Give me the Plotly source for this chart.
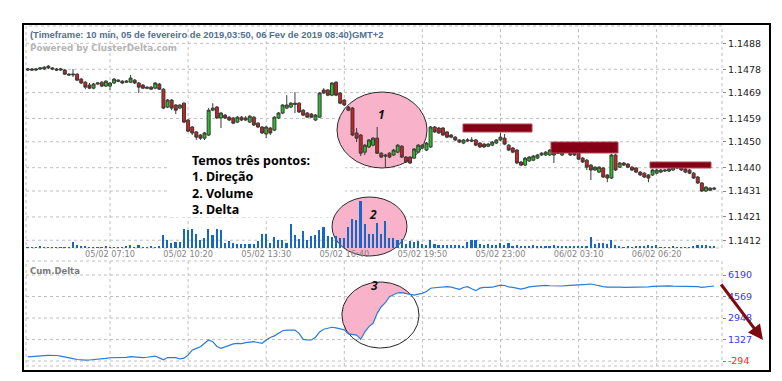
import math
import plotly.graph_objects as go

W, H = 782, 381

# ---------------- data ----------------
x_tick_idx = [20, 39, 58, 77, 96, 115, 134, 153]
x_tick_text = ["05/02 07:10", "05/02 10:20", "05/02 13:30", "05/02 16:40",
               "05/02 19:50", "05/02 23:00", "06/02 03:10", "06/02 06:20"]
price_ticks = [1.1412, 1.1421, 1.1431, 1.1440, 1.1450, 1.1459, 1.1469, 1.1478, 1.1488]
delta_ticks = [-294, 1327, 2948, 4569, 6190]

open_ = [
    1.14777, 1.14781, 1.14777, 1.14781, 1.14781, 1.14792, 1.14785, 1.14781, 1.14777, 1.14777,
    1.14761, 1.14758, 1.14761, 1.14742, 1.14730, 1.14719, 1.14707, 1.14723, 1.14730, 1.14715,
    1.14715, 1.14727, 1.14738, 1.14734, 1.14730, 1.14730, 1.14738, 1.14727, 1.14719, 1.14711,
    1.14711, 1.14707, 1.14723, 1.14703, 1.14634, 1.14661, 1.14642, 1.14630, 1.14649, 1.14584,
    1.14557, 1.14538, 1.14526, 1.14514, 1.14526, 1.14622, 1.14634, 1.14592, 1.14603, 1.14595,
    1.14592, 1.14576, 1.14595, 1.14592, 1.14576, 1.14595, 1.14572, 1.14557, 1.14530, 1.14553,
    1.14545, 1.14592, 1.14611, 1.14630, 1.14634, 1.14649, 1.14649, 1.14622, 1.14611, 1.14607,
    1.14584, 1.14595, 1.14700, 1.14700, 1.14680, 1.14730, 1.14688, 1.14661, 1.14634, 1.14630,
    1.14534, 1.14526, 1.14460, 1.14480, 1.14487, 1.14514, 1.14456, 1.14449, 1.14456, 1.14449,
    1.14460, 1.14483, 1.14441, 1.14441, 1.14437, 1.14460, 1.14476, 1.14468, 1.14480, 1.14557,
    1.14553, 1.14553, 1.14538, 1.14526, 1.14518, 1.14507, 1.14495, 1.14503, 1.14507, 1.14507,
    1.14495, 1.14491, 1.14483, 1.14487, 1.14495, 1.14507, 1.14514, 1.14487, 1.14476, 1.14468,
    1.14422, 1.14410, 1.14426, 1.14429, 1.14437, 1.14449, 1.14449, 1.14449, 1.14468, 1.14460,
    1.14449, 1.14460, 1.14460, 1.14456, 1.14456, 1.14437, 1.14429, 1.14410, 1.14391, 1.14383,
    1.14399, 1.14372, 1.14360, 1.14449, 1.14402, 1.14418, 1.14414, 1.14402, 1.14399, 1.14383,
    1.14379, 1.14372, 1.14372, 1.14379, 1.14383, 1.14387, 1.14387, 1.14391, 1.14399, 1.14402,
    1.14395, 1.14391, 1.14379, 1.14364, 1.14341, 1.14310, 1.14321, 1.14317,
]
close = [
    1.14781, 1.14777, 1.14781, 1.14785, 1.14788, 1.14785, 1.14781, 1.14777, 1.14781, 1.14761,
    1.14758, 1.14761, 1.14738, 1.14727, 1.14711, 1.14707, 1.14723, 1.14727, 1.14715, 1.14734,
    1.14727, 1.14742, 1.14734, 1.14727, 1.14734, 1.14746, 1.14727, 1.14711, 1.14707, 1.14707,
    1.14703, 1.14727, 1.14703, 1.14630, 1.14661, 1.14630, 1.14622, 1.14642, 1.14576, 1.14541,
    1.14534, 1.14518, 1.14514, 1.14534, 1.14622, 1.14630, 1.14592, 1.14611, 1.14592, 1.14584,
    1.14572, 1.14595, 1.14584, 1.14584, 1.14599, 1.14565, 1.14557, 1.14534, 1.14557, 1.14534,
    1.14595, 1.14611, 1.14642, 1.14642, 1.14649, 1.14645, 1.14615, 1.14603, 1.14595, 1.14595,
    1.14603, 1.14688, 1.14688, 1.14680, 1.14727, 1.14680, 1.14649, 1.14642, 1.14622, 1.14526,
    1.14514, 1.14456, 1.14487, 1.14507, 1.14514, 1.14456, 1.14441, 1.14445, 1.14441, 1.14468,
    1.14487, 1.14441, 1.14422, 1.14418, 1.14472, 1.14487, 1.14487, 1.14495, 1.14557, 1.14538,
    1.14534, 1.14526, 1.14518, 1.14518, 1.14507, 1.14499, 1.14507, 1.14507, 1.14503, 1.14487,
    1.14480, 1.14480, 1.14491, 1.14499, 1.14507, 1.14518, 1.14491, 1.14468, 1.14460, 1.14418,
    1.14410, 1.14437, 1.14441, 1.14445, 1.14449, 1.14456, 1.14460, 1.14468, 1.14449, 1.14456,
    1.14460, 1.14468, 1.14449, 1.14449, 1.14433, 1.14422, 1.14402, 1.14391, 1.14402, 1.14402,
    1.14364, 1.14360, 1.14449, 1.14391, 1.14418, 1.14410, 1.14402, 1.14391, 1.14383, 1.14372,
    1.14364, 1.14360, 1.14391, 1.14391, 1.14391, 1.14391, 1.14395, 1.14402, 1.14406, 1.14391,
    1.14383, 1.14379, 1.14360, 1.14341, 1.14310, 1.14325, 1.14313, 1.14321,
]
high = [
    1.14785, 1.14785, 1.14785, 1.14788, 1.14792, 1.14796, 1.14788, 1.14785, 1.14785, 1.14781,
    1.14765, 1.14781, 1.14765, 1.14746, 1.14734, 1.14727, 1.14727, 1.14730, 1.14734, 1.14738,
    1.14730, 1.14746, 1.14742, 1.14738, 1.14738, 1.14758, 1.14742, 1.14730, 1.14723, 1.14715,
    1.14715, 1.14730, 1.14727, 1.14707, 1.14665, 1.14665, 1.14645, 1.14645, 1.14653, 1.14588,
    1.14561, 1.14541, 1.14530, 1.14538, 1.14630, 1.14649, 1.14638, 1.14615, 1.14607, 1.14599,
    1.14595, 1.14599, 1.14599, 1.14599, 1.14603, 1.14599, 1.14576, 1.14561, 1.14561, 1.14557,
    1.14599, 1.14615, 1.14645, 1.14680, 1.14653, 1.14692, 1.14653, 1.14626, 1.14615, 1.14611,
    1.14607, 1.14692, 1.14707, 1.14703, 1.14730, 1.14734, 1.14692, 1.14665, 1.14638, 1.14634,
    1.14553, 1.14530, 1.14491, 1.14510, 1.14518, 1.14557, 1.14460, 1.14453, 1.14460, 1.14472,
    1.14491, 1.14487, 1.14445, 1.14445, 1.14476, 1.14491, 1.14491, 1.14499, 1.14561, 1.14561,
    1.14557, 1.14557, 1.14541, 1.14530, 1.14522, 1.14510, 1.14510, 1.14514, 1.14518, 1.14510,
    1.14499, 1.14495, 1.14495, 1.14503, 1.14510, 1.14534, 1.14530, 1.14491, 1.14480, 1.14472,
    1.14426, 1.14441, 1.14445, 1.14449, 1.14453, 1.14460, 1.14464, 1.14472, 1.14472, 1.14464,
    1.14464, 1.14472, 1.14464, 1.14460, 1.14460, 1.14441, 1.14433, 1.14414, 1.14406, 1.14406,
    1.14402, 1.14375, 1.14453, 1.14453, 1.14422, 1.14422, 1.14418, 1.14406, 1.14402, 1.14387,
    1.14383, 1.14375, 1.14395, 1.14395, 1.14395, 1.14395, 1.14399, 1.14406, 1.14410, 1.14406,
    1.14399, 1.14395, 1.14383, 1.14368, 1.14344, 1.14329, 1.14325, 1.14325,
]
low = [
    1.14773, 1.14773, 1.14773, 1.14777, 1.14777, 1.14781, 1.14777, 1.14773, 1.14773, 1.14758,
    1.14754, 1.14750, 1.14734, 1.14723, 1.14703, 1.14703, 1.14703, 1.14719, 1.14711, 1.14711,
    1.14700, 1.14723, 1.14730, 1.14723, 1.14727, 1.14727, 1.14723, 1.14688, 1.14703, 1.14703,
    1.14700, 1.14703, 1.14700, 1.14626, 1.14630, 1.14622, 1.14607, 1.14626, 1.14572, 1.14538,
    1.14526, 1.14507, 1.14507, 1.14507, 1.14522, 1.14618, 1.14588, 1.14553, 1.14588, 1.14580,
    1.14568, 1.14572, 1.14580, 1.14580, 1.14572, 1.14561, 1.14553, 1.14530, 1.14514, 1.14526,
    1.14541, 1.14588, 1.14607, 1.14626, 1.14630, 1.14611, 1.14611, 1.14599, 1.14592, 1.14592,
    1.14580, 1.14592, 1.14684, 1.14676, 1.14676, 1.14676, 1.14645, 1.14638, 1.14618, 1.14522,
    1.14499, 1.14445, 1.14449, 1.14476, 1.14483, 1.14453, 1.14437, 1.14399, 1.14437, 1.14445,
    1.14456, 1.14437, 1.14418, 1.14414, 1.14433, 1.14456, 1.14472, 1.14464, 1.14476, 1.14534,
    1.14530, 1.14522, 1.14514, 1.14514, 1.14503, 1.14495, 1.14491, 1.14499, 1.14499, 1.14483,
    1.14476, 1.14476, 1.14480, 1.14483, 1.14491, 1.14503, 1.14487, 1.14464, 1.14456, 1.14414,
    1.14406, 1.14406, 1.14422, 1.14426, 1.14433, 1.14445, 1.14445, 1.14445, 1.14418, 1.14453,
    1.14445, 1.14456, 1.14445, 1.14445, 1.14429, 1.14418, 1.14391, 1.14352, 1.14387, 1.14379,
    1.14360, 1.14344, 1.14356, 1.14387, 1.14399, 1.14406, 1.14399, 1.14387, 1.14379, 1.14368,
    1.14360, 1.14344, 1.14368, 1.14375, 1.14379, 1.14383, 1.14383, 1.14387, 1.14395, 1.14387,
    1.14379, 1.14375, 1.14356, 1.14337, 1.14306, 1.14306, 1.14310, 1.14313,
]
volume = [
    1, 1, 1, 2, 1, 1, 1, 1, 1, 1,
    1, 6, 3, 2, 2, 1, 1, 1, 1, 2,
    1, 1, 1, 1, 2, 3, 1, 3, 1, 1,
    2, 1, 2, 13, 8, 5, 6, 6, 19, 18,
    19, 14, 8, 10, 19, 13, 19, 18, 5, 7,
    5, 4, 4, 4, 4, 4, 7, 14, 14, 5,
    11, 8, 8, 5, 24, 13, 9, 17, 8, 12,
    13, 18, 21, 12, 11, 12, 10, 10, 21, 29,
    28, 47, 24, 14, 14, 25, 14, 27, 10, 10,
    8, 9, 4, 7, 6, 7, 4, 3, 8, 4,
    3, 3, 3, 3, 3, 3, 2, 6, 8, 8,
    4, 3, 4, 3, 3, 5, 3, 5, 2, 3,
    2, 2, 2, 3, 2, 2, 2, 2, 3, 2,
    2, 2, 2, 2, 2, 2, 2, 11, 4, 5,
    5, 4, 8, 3, 2, 1, 2, 1, 2, 2,
    2, 3, 2, 3, 1, 1, 1, 2, 1, 1,
    1, 1, 2, 3, 3, 3, 2, 2,
]
cum_delta = [
    20, 30, 50, 80, 110, 130, 150, 120, 80, 30,
    -40, -120, -180, -220, -230, -220, -200, -170, -130, -90,
    -50, -40, -60, -45, -20, 30, 10, -30, -45, -10,
    30, 80, -60, -210, -30, -10, -40, -140, -80, 160,
    520, 660, 780, 1050, 1290, 1160, 800, 660, 760, 880,
    1000, 1040, 1020, 1090, 1120, 1160, 1100, 1040, 1290, 1480,
    1600, 1820, 1990, 2030, 2050, 2040, 1790, 1340, 1300, 1290,
    1500, 1900, 2100, 2200, 2250, 2200, 2100, 2050, 1750, 1700,
    1660, 1340, 1900, 2300, 2550, 3300, 3800, 4100, 4550, 4700,
    4850, 4860, 4800, 4760, 4680, 4750, 4810, 4950, 5190, 5230,
    5260, 5240, 5310, 5280, 5200, 5110, 5250, 5310, 5150, 5010,
    5200, 5260, 5250, 5270, 5350, 5430, 5400, 5300, 5260, 5200,
    5130, 5200, 5300, 5330, 5370, 5400, 5410, 5380, 5360, 5340,
    5360, 5390, 5400, 5410, 5410, 5440, 5480, 5510, 5430, 5360,
    5320, 5280, 5260, 5250, 5270, 5260, 5260, 5270, 5250, 5260,
    5265, 5300, 5340, 5360, 5350, 5360, 5370, 5350, 5340, 5360,
    5360, 5350, 5340, 5310, 5260, 5280, 5350, 5360,
]

n = len(close)
assert len(open_) == n and len(high) == n and len(low) == n, (len(open_), len(high), len(low), n)
assert len(volume) == n and len(cum_delta) == n, (len(volume), len(cum_delta), n)
idx = list(range(n))


# ---------------- layout helpers (pixel -> paper) ----------------
def fx(px):
    return px / W


def fy(py):
    return 1 - py / H


PL, PR = 26, 722          # plot area left / right
UT, UB = 26, 248          # upper panel top / bottom
LT, LB = 261, 366         # lower panel top / bottom
X_RANGE = [-0.44, 168.9]
GRID = "#c0c0c0"
PINK = "#f8b2ca"

fig = go.Figure()

fig.add_trace(go.Candlestick(
    x=idx, open=open_, high=high, low=low, close=close,
    xaxis="x", yaxis="y", whiskerwidth=0,
    increasing=dict(line=dict(color="#3a3a3a", width=1), fillcolor="#22c322"),
    decreasing=dict(line=dict(color="#3a3a3a", width=1), fillcolor="#cf1f1f"),
    showlegend=False, hoverinfo="skip",
))

fig.add_trace(go.Bar(
    x=idx, y=volume, xaxis="x", yaxis="y3", width=0.4,
    marker=dict(color="#1668c8", line=dict(width=0)),
    showlegend=False, hoverinfo="skip",
))

# ellipse 3 (annotation) in the Cum.Delta panel, pink part above the line
e3_ci, e3_cv, e3_ri, e3_rv = 85.8, 3174.0, 9.37, 2488.0
s_i, e_i = 78, 93
a_end = math.atan2((cum_delta[e_i] - e3_cv) / e3_rv, (e_i - e3_ci) / e3_ri)
a_start = math.atan2((cum_delta[s_i] - e3_cv) / e3_rv, (s_i - e3_ci) / e3_ri)
if a_start < a_end:
    a_start += 2 * math.pi
fill_x = [i for i in range(s_i, e_i + 1)]
fill_y = [cum_delta[i] for i in range(s_i, e_i + 1)]
for k in range(61):
    t = a_end + (a_start - a_end) * k / 60
    fill_x.append(e3_ci + e3_ri * math.cos(t))
    fill_y.append(e3_cv + e3_rv * math.sin(t))
fig.add_trace(go.Scatter(
    x=fill_x, y=fill_y, xaxis="x2", yaxis="y2", mode="lines", fill="toself",
    fillcolor=PINK, line=dict(width=0), showlegend=False, hoverinfo="skip",
))
ell_x = [e3_ci + e3_ri * math.cos(2 * math.pi * k / 120) for k in range(121)]
ell_y = [e3_cv + e3_rv * math.sin(2 * math.pi * k / 120) for k in range(121)]
fig.add_trace(go.Scatter(
    x=ell_x, y=ell_y, xaxis="x2", yaxis="y2", mode="lines",
    line=dict(color="#222222", width=1), showlegend=False, hoverinfo="skip",
))

fig.add_trace(go.Scatter(
    x=idx, y=cum_delta, xaxis="x2", yaxis="y2", mode="lines",
    line=dict(color="#2b7bd8", width=1.2), showlegend=False, hoverinfo="skip",
))

# ---------------- shapes ----------------
shapes = []
dot = dict(color=GRID, width=1, dash="dot")
for v in price_ticks:
    shapes.append(dict(type="line", xref="paper", yref="y", x0=fx(PL), x1=fx(PR),
                       y0=v, y1=v, line=dot, layer="below"))
for v in delta_ticks:
    shapes.append(dict(type="line", xref="paper", yref="y2", x0=fx(PL), x1=fx(PR),
                       y0=v, y1=v, line=dot, layer="below"))
for t in x_tick_idx:
    shapes.append(dict(type="line", xref="x", yref="paper", x0=t, x1=t,
                       y0=fy(UB), y1=fy(UT), line=dot, layer="below"))
    shapes.append(dict(type="line", xref="x", yref="paper", x0=t, x1=t,
                       y0=fy(LB), y1=fy(LT), line=dot, layer="below"))
for (t, b) in [(UT, UB), (LT, LB)]:
    shapes.append(dict(type="rect", xref="paper", yref="paper", x0=fx(PL), x1=fx(PR),
                       y0=fy(b), y1=fy(t), line=dot, layer="below"))
# white background of the text block
shapes.append(dict(type="rect", xref="paper", yref="paper", x0=fx(167), x1=fx(345),
                   y0=fy(217), y1=fy(138), fillcolor="white", line=dict(width=0),
                   layer="below"))
# ellipses 1 and 2
for (x0, y0, x1, y1) in [(337, 92, 427, 168), (332, 197, 407, 256)]:
    shapes.append(dict(type="circle", xref="paper", yref="paper", x0=fx(x0), x1=fx(x1),
                       y0=fy(y1), y1=fy(y0), fillcolor=PINK,
                       line=dict(color="#2a2a2a", width=1), layer="below"))
# dark red resistance boxes
for (x0, y0, x1, y1) in [(463, 124, 532, 132), (551, 142, 618, 153), (650, 162, 711, 168)]:
    shapes.append(dict(type="rect", xref="paper", yref="paper", x0=fx(x0), x1=fx(x1),
                       y0=fy(y1), y1=fy(y0), fillcolor="#850015",
                       line=dict(color="#b04858", width=1), layer="above"))
# outer frame
shapes.append(dict(type="rect", xref="paper", yref="paper", x0=fx(23), x1=fx(770),
                   y0=fy(371), y1=fy(24), line=dict(color="#000000", width=2),
                   layer="above"))

# ---------------- annotations ----------------
ann = []
ann.append(dict(xref="paper", yref="paper", x=fx(28), y=fy(35), xanchor="left",
                yanchor="middle", showarrow=False,
                text="(Timeframe: 10 min, 05 de fevereiro de 2019,03:50, 06 Fev de 2019 08:40)GMT+2",
                font=dict(family="Liberation Sans", size=9.4, color="#52708f", weight="bold")))
ann.append(dict(xref="paper", yref="paper", x=fx(28), y=fy(48), xanchor="left",
                yanchor="middle", showarrow=False, text="Powered by ClusterDelta.com",
                font=dict(family="DejaVu Sans", size=8.8, color="#b4b4b4", weight="bold")))
ann.append(dict(xref="paper", yref="paper", x=fx(28), y=fy(271), xanchor="left",
                yanchor="middle", showarrow=False, text="Cum.Delta",
                font=dict(family="DejaVu Sans", size=8.5, color="#7a7a7a", weight="bold")))
ann.append(dict(xref="paper", yref="paper", x=fx(190), y=fy(184.5), xanchor="left",
                yanchor="middle", showarrow=False, align="left",
                text="Temos três pontos:<br>1. Direção<br>2. Volume<br>3. Delta",
                font=dict(family="Noto Sans", size=12.5, color="#000000", weight="bold")))
for (lbl, px, py) in [("1", 381, 104), ("2", 373, 214), ("3", 374, 296)]:
    ann.append(dict(xref="paper", yref="paper", x=fx(px), y=fy(py), showarrow=False,
                    text="<b><i>%s</i></b>" % lbl,
                    font=dict(family="Noto Sans", size=12, color="#111111")))
ann.append(dict(xref="paper", yref="paper", x=fx(763), y=fy(340), ax=-43, ay=-57,
                text="", showarrow=True, arrowhead=2, arrowsize=1, arrowwidth=3,
                arrowcolor="#7d0b10"))

delta_text = []
for v in delta_ticks:
    col = "#ff2a2a" if v < 0 else "#3838f0"
    delta_text.append('<span style="color:%s">%d</span>' % (col, v))

fig.update_layout(
    width=W, height=H, autosize=False,
    margin=dict(l=0, r=0, t=0, b=0, pad=0),
    paper_bgcolor="white", plot_bgcolor="rgba(0,0,0,0)",
    showlegend=False, bargap=0, boxgap=0.2, boxgroupgap=0.1,
    xaxis=dict(domain=[fx(PL), fx(PR)], range=X_RANGE, anchor="y",
               tickmode="array", tickvals=x_tick_idx, ticktext=x_tick_text,
               tickfont=dict(family="DejaVu Sans", size=8.2, color="#858585"),
               showgrid=False, zeroline=False, showline=False, ticks="",
               rangeslider=dict(visible=False), fixedrange=True),
    xaxis2=dict(domain=[fx(PL), fx(PR)], range=X_RANGE, anchor="y2",
                showticklabels=False, showgrid=False, zeroline=False, showline=False,
                ticks="", fixedrange=True),
    yaxis=dict(domain=[fy(UB), fy(UT)], range=[1.14090, 1.14947], anchor="x",
               side="right", tickmode="array", tickvals=price_ticks,
               ticktext=["%.4f" % v for v in price_ticks],
               tickfont=dict(family="DejaVu Sans", size=9.5, color="#222222"),
               ticks="outside", ticklen=3, tickcolor="#888888",
               showgrid=False, zeroline=False, showline=False, fixedrange=True),
    yaxis3=dict(overlaying="y", range=[0, 222], visible=False, fixedrange=True),
    yaxis2=dict(domain=[fy(LB), fy(LT)], range=[-671, 7246], anchor="x2",
                side="right", tickmode="array", tickvals=delta_ticks, ticktext=delta_text,
                tickfont=dict(family="DejaVu Sans", size=9.5, color="#3838f0"),
                ticks="outside", ticklen=3, tickcolor="#888888",
                showgrid=False, zeroline=False, showline=False, fixedrange=True),
    shapes=shapes,
    annotations=ann,
)

fig.write_html("out.html", config={"displayModeBar": False})

with open("out.html", "r", encoding="utf-8") as f:
    html = f.read()
html = html.replace("<head>", "<head><style>html,body{margin:0;padding:0;overflow:hidden;}</style>", 1)
with open("out.html", "w", encoding="utf-8") as f:
    f.write(html)
